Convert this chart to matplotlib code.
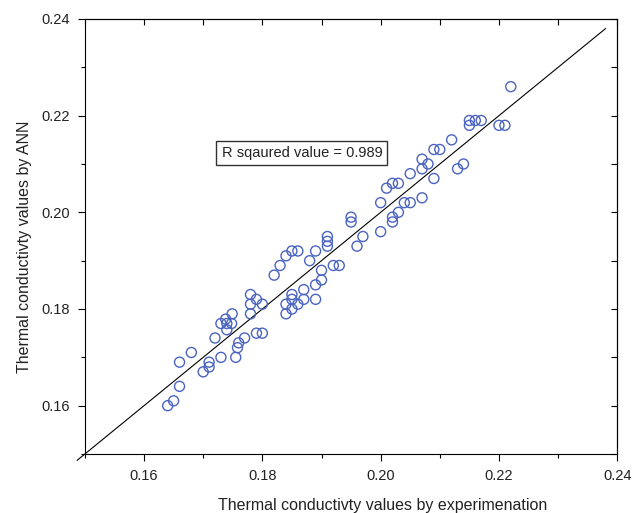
import matplotlib.pyplot as plt
import numpy as np

exp_vals = [0.164, 0.165, 0.166, 0.166, 0.168, 0.170, 0.171, 0.171, 0.173, 0.172,
            0.173, 0.1738, 0.174, 0.1749, 0.1748, 0.174, 0.1755, 0.1758, 0.176, 0.177,
            0.178, 0.178, 0.178, 0.179, 0.180, 0.179, 0.180, 0.182, 0.183, 0.184,
            0.185, 0.186, 0.184, 0.184, 0.185, 0.185, 0.185, 0.186, 0.187, 0.187,
            0.188, 0.189, 0.189, 0.189, 0.190, 0.190, 0.191, 0.191, 0.191, 0.192,
            0.193, 0.195, 0.195, 0.196, 0.197, 0.200, 0.200, 0.201, 0.202, 0.203,
            0.202, 0.202, 0.203, 0.204, 0.205, 0.205, 0.207, 0.207, 0.208, 0.207,
            0.209, 0.209, 0.210, 0.212, 0.213, 0.214, 0.215, 0.215, 0.216, 0.217,
            0.220, 0.221, 0.222]
ann_vals = [0.160, 0.161, 0.164, 0.169, 0.171, 0.167, 0.168, 0.169, 0.170, 0.174,
            0.177, 0.1779, 0.1757, 0.179, 0.177, 0.177, 0.170, 0.172, 0.173, 0.174,
            0.183, 0.181, 0.179, 0.182, 0.181, 0.175, 0.175, 0.187, 0.189, 0.191,
            0.192, 0.192, 0.181, 0.179, 0.180, 0.182, 0.183, 0.181, 0.182, 0.184,
            0.190, 0.192, 0.185, 0.182, 0.186, 0.188, 0.193, 0.194, 0.195, 0.189,
            0.189, 0.199, 0.198, 0.193, 0.195, 0.202, 0.196, 0.205, 0.206, 0.206,
            0.198, 0.199, 0.200, 0.202, 0.202, 0.208, 0.211, 0.209, 0.210, 0.203,
            0.207, 0.213, 0.213, 0.215, 0.209, 0.210, 0.218, 0.219, 0.219, 0.219,
            0.218, 0.218, 0.226]

line_x = [0.1487, 0.238]
major = [0.16, 0.18, 0.20, 0.22, 0.24]
minor = [0.15, 0.17, 0.19, 0.21, 0.23]

plt.rcParams['font.family'] = ['Liberation Sans', 'DejaVu Sans']

fig = plt.figure(figsize=(6.43, 5.13), dpi=100)
ax = fig.add_axes([0.132, 0.115, 0.828, 0.848])

ax.plot(line_x, line_x, color='black', lw=0.8, clip_on=False, zorder=2)
ax.scatter(exp_vals, ann_vals, s=52, facecolors='none', edgecolors='#4a63c0',
           linewidths=1.0, zorder=3)

ax.set_xlim(0.15, 0.24)
ax.set_ylim(0.15, 0.24)
ax.set_xticks(major)
ax.set_yticks(major)
ax.set_xticks(minor, minor=True)
ax.set_yticks(minor, minor=True)
ax.set_xticklabels(['%.2f' % v for v in major])
ax.set_yticklabels(['%.2f' % v for v in major])
ax.tick_params(which='major', direction='out', length=5, width=0.8, labelsize=10.5, pad=6,
               labelcolor='#222222')
ax.tick_params(which='minor', direction='out', length=3, width=0.8)

# inward ticks on top and right
top = ax.secondary_xaxis('top')
top.set_xticks(major + minor)
top.tick_params(direction='in', length=4, width=0.8, labeltop=False)
right = ax.secondary_yaxis('right')
right.set_yticks(major + minor)
right.tick_params(direction='in', length=4, width=0.8, labelright=False)

for sp in ax.spines.values():
    sp.set_linewidth(0.8)

ax.set_xlabel('Thermal conductivty values by experimenation', fontsize=11.5, color='#222222')
ax.xaxis.set_label_coords(0.56, -0.1)
ax.set_ylabel('Thermal conductivty values by ANN', fontsize=11.5, color='#222222')
ax.yaxis.set_label_coords(-0.10, 0.476)

ax.text(0.1867, 0.2123, 'R sqaured value = 0.989', fontsize=10.5, ha='center', va='center',
        color='#222222',
        bbox=dict(boxstyle='square,pad=0.35', facecolor='white', edgecolor='#333333', lw=1))

fig.savefig('out.png', dpi=100)
